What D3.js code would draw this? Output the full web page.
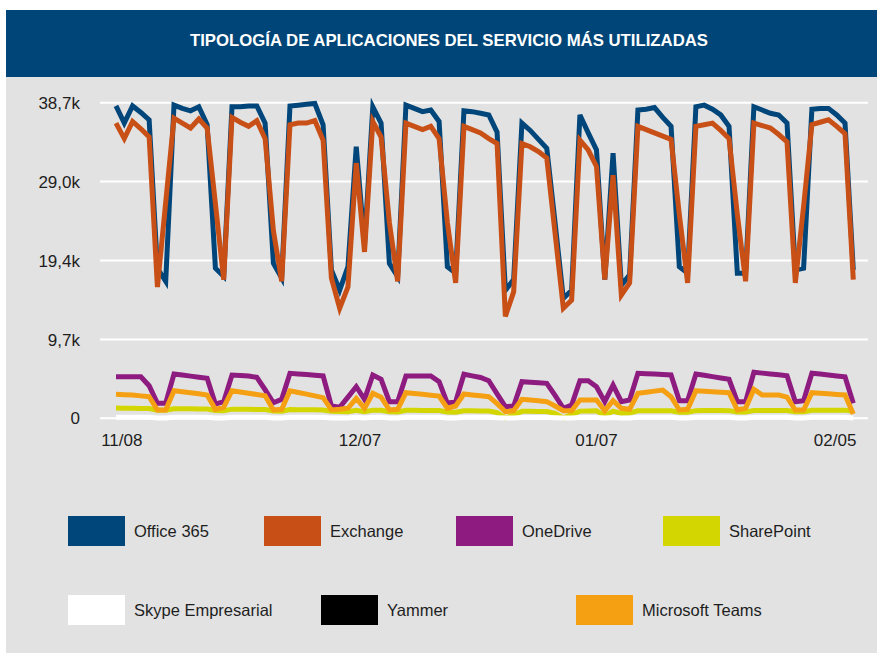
<!DOCTYPE html>
<html lang="es">
<head>
<meta charset="UTF-8">
<title>Tipología de aplicaciones del servicio más utilizadas</title>
<script src="https://cdn.jsdelivr.net/npm/d3@7"></script>
<style>
    body { margin: 0; background: #fff; }
    svg { display: block; font-family: "Liberation Sans", Arial, sans-serif; }
</style>
</head>
<body>
<svg id="chart" width="877" height="653"></svg>
<script>
// daily values (thousands), one point per day, Monday first
const office365 = [
    38.3, 36.2, 38.3, 37.5, 36.6, 18.4, 16.8,
    38.4, 38.0, 37.7, 38.2, 36.0, 18.4, 17.4,
    38.2, 38.2, 38.3, 38.3, 36.2, 19.0, 17.2,
    38.3, 38.4, 38.5, 38.6, 36.0, 18.2, 15.7,
    18.6, 33.3, 21.3, 38.2, 36.2, 19.0, 17.4,
    38.4, 38.0, 37.6, 37.8, 36.4, 18.6, 17.8,
    37.7, 37.6, 37.4, 37.2, 35.1, 15.7, 17.0,
    36.2, 35.3, 34.2, 33.1, 24.0, 14.7, 15.7,
    37.2, 35.0, 32.9, 17.0, 32.5, 16.3, 17.6,
    37.8, 37.9, 38.1, 36.9, 35.8, 18.6, 17.8,
    38.2, 38.4, 37.9, 37.2, 35.8, 17.8, 17.8,
    38.2, 37.8, 37.4, 37.2, 36.2, 18.2, 18.4,
    37.9, 38.0, 38.0, 37.2, 36.2, 18.2
];
const exchange = [
    36.2, 34.3, 36.4, 35.5, 34.5, 16.1, 26.5,
    36.8, 36.2, 35.6, 36.7, 35.6, 26.3, 17.0,
    36.9, 36.3, 35.8, 36.5, 34.3, 23.0, 16.8,
    36.0, 36.2, 36.2, 36.5, 34.1, 17.2, 13.5,
    16.1, 31.3, 20.4, 36.4, 34.5, 24.0, 16.8,
    36.2, 35.8, 35.4, 35.8, 34.3, 24.0, 16.6,
    35.8, 35.4, 35.0, 34.3, 33.7, 12.5, 15.5,
    33.7, 33.3, 32.7, 31.9, 22.7, 13.5, 14.5,
    34.1, 32.9, 30.9, 17.0, 29.8, 15.1, 16.6,
    35.8, 35.4, 35.0, 34.6, 34.2, 25.0, 16.6,
    35.8, 36.0, 36.2, 35.3, 34.3, 25.0, 16.8,
    36.2, 35.9, 35.6, 34.8, 33.9, 16.6, 26.0,
    36.0, 36.3, 36.6, 35.8, 34.9, 17.0
];
const oneDrive = [
    5.10, 5.10, 5.10, 5.10, 4.00, 1.84, 1.84,
    5.43, 5.30, 5.17, 5.03, 4.90, 1.75, 2.04,
    5.31, 5.25, 5.18, 5.03, 3.50, 1.91, 2.33,
    5.52, 5.44, 5.36, 5.27, 5.19, 1.51, 1.35,
    2.60, 3.87, 2.33, 5.31, 4.78, 2.04, 2.04,
    5.19, 5.19, 5.19, 5.19, 4.49, 1.84, 2.04,
    5.40, 5.20, 5.00, 4.61, 3.00, 1.42, 1.51,
    4.49, 4.42, 4.36, 4.29, 2.80, 1.23, 1.63,
    4.61, 4.61, 3.87, 2.04, 4.08, 2.04, 2.24,
    5.52, 5.47, 5.42, 5.36, 5.31, 2.16, 2.16,
    5.43, 5.27, 5.11, 4.94, 4.78, 2.04, 2.04,
    5.64, 5.54, 5.43, 5.33, 5.22, 2.04, 2.16,
    5.52, 5.42, 5.31, 5.20, 5.10, 1.84
];
const sharePoint = [
    1.25, 1.24, 1.23, 1.21, 1.20, 1.00, 0.98,
    1.18, 1.17, 1.16, 1.15, 1.13, 0.95, 0.93,
    1.12, 1.11, 1.10, 1.09, 1.07, 0.90, 0.88,
    1.07, 1.06, 1.05, 1.04, 1.02, 0.85, 0.82,
    0.80, 0.98, 0.80, 1.00, 0.98, 0.80, 0.78,
    0.98, 0.98, 0.97, 0.97, 0.95, 0.78, 0.75,
    0.92, 0.92, 0.90, 0.90, 0.70, 0.05, 0.40,
    0.85, 0.85, 0.84, 0.83, 0.60, 0.05, 0.45,
    0.88, 0.90, 0.92, 0.30, 0.88, 0.60, 0.65,
    0.92, 0.93, 0.93, 0.93, 0.92, 0.75, 0.75,
    0.94, 0.95, 0.95, 0.95, 0.94, 0.78, 0.78,
    0.96, 0.97, 0.97, 0.97, 0.96, 0.80, 0.80,
    0.98, 0.99, 1.00, 1.00, 1.00, 0.85
];
const skype = [
    0.12, 0.12, 0.12, 0.12, 0.12, 0.05, 0.05,
    0.12, 0.12, 0.12, 0.12, 0.12, 0.05, 0.05,
    0.12, 0.12, 0.12, 0.12, 0.12, 0.05, 0.05,
    0.12, 0.12, 0.12, 0.12, 0.12, 0.05, 0.05,
    0.05, 0.12, 0.05, 0.12, 0.12, 0.05, 0.05,
    0.12, 0.12, 0.12, 0.12, 0.12, 0.05, 0.05,
    0.12, 0.12, 0.12, 0.12, 0.08, 0.04, 0.04,
    0.10, 0.10, 0.10, 0.10, 0.08, 0.04, 0.04,
    0.10, 0.10, 0.10, 0.05, 0.10, 0.05, 0.05,
    0.12, 0.12, 0.12, 0.12, 0.12, 0.05, 0.05,
    0.12, 0.12, 0.12, 0.12, 0.12, 0.05, 0.05,
    0.12, 0.12, 0.12, 0.12, 0.12, 0.05, 0.05,
    0.12, 0.12, 0.12, 0.12, 0.12, 0.05
];
const yammer = [];   // no visible line in the chart
const teams = [
    2.94, 2.90, 2.85, 2.75, 2.65, 1.02, 1.02,
    3.38, 3.26, 3.14, 3.00, 2.86, 1.10, 1.35,
    3.38, 3.23, 3.07, 2.92, 2.77, 1.02, 1.10,
    3.38, 3.17, 2.96, 2.75, 2.53, 1.02, 1.10,
    1.23, 2.45, 1.23, 3.07, 2.58, 1.02, 1.10,
    3.14, 3.04, 2.94, 2.83, 2.73, 1.23, 1.51,
    2.98, 2.87, 2.76, 2.65, 1.80, 0.81, 0.93,
    2.33, 2.24, 2.14, 2.04, 1.50, 0.93, 0.93,
    2.24, 2.24, 2.24, 0.93, 2.16, 1.23, 1.10,
    3.07, 3.20, 3.33, 3.47, 2.65, 1.02, 1.10,
    3.38, 3.32, 3.26, 3.20, 3.14, 1.02, 1.23,
    3.56, 2.86, 2.86, 2.86, 2.60, 1.02, 1.02,
    3.14, 3.07, 3.00, 2.93, 2.86, 0.53
];

const seriesNames = ["Office 365", "Exchange", "OneDrive", "SharePoint", "Skype Empresarial", "Yammer", "Microsoft Teams"];
const seriesValues = [office365, exchange, oneDrive, sharePoint, skype, yammer, teams];
const seriesColors = ["#00467a", "#c84f16", "#8e1b7f", "#d3d600", "#ffffff", "#000000", "#f4a012"];

const yTicks = [0, 9.675, 19.35, 29.025, 38.7];
const yTickLabels = ["0", "9,7k", "19,4k", "29,0k", "38,7k"];
const xTicks = [0.7, 29.45, 58.0, 86.8];
const xTickLabels = ["11/08", "12/07", "01/07", "02/05"];

const title = "TIPOLOGÍA DE APLICACIONES DEL SERVICIO MÁS UTILIZADAS";

let svg = d3.select("#chart");

// panel + header
svg.append("rect").attr("x", 6).attr("y", 10).attr("width", 871).attr("height", 643).attr("fill", "#e2e2e2");
svg.append("rect").attr("x", 6).attr("y", 10).attr("width", 871).attr("height", 67).attr("fill", "#004577");
svg.append("text")
    .attr("x", 449).attr("y", 46)
    .attr("text-anchor", "middle")
    .attr("fill", "#fff")
    .attr("font-weight", "bold")
    .attr("font-size", 17)
    .attr("textLength", 518)
    .attr("lengthAdjust", "spacingAndGlyphs")
    .text(title);

let x = d3.scaleLinear().domain([0, office365.length - 1]).range([116, 853.3]);
let y = d3.scaleLinear().domain([0, 38.7]).range([418.3, 102.7]);

// grid
svg.append("g").selectAll("line")
    .data(yTicks)
    .join("line")
    .attr("x1", 100).attr("x2", 868)
    .attr("y1", d => y(d)).attr("y2", d => y(d))
    .attr("stroke", "#fff").attr("stroke-width", 2);

svg.append("g").selectAll("text")
    .data(yTicks)
    .join("text")
    .attr("x", 80).attr("y", d => y(d))
    .attr("dy", "0.36em")
    .attr("text-anchor", "end")
    .attr("font-size", 17)
    .attr("fill", "#1e1e1e")
    .text((d, i) => yTickLabels[i]);

svg.append("g").selectAll("text")
    .data(xTicks)
    .join("text")
    .attr("x", d => x(d)).attr("y", 446)
    .attr("text-anchor", "middle")
    .attr("font-size", 17)
    .attr("fill", "#1e1e1e")
    .text((d, i) => xTickLabels[i]);

// lines, drawn in legend order so later series sit on top
let line = d3.line().x((d, i) => x(i)).y(d => y(d));
svg.append("g").selectAll("path")
    .data(seriesValues.map((v, i) => ({v: v, c: seriesColors[i]})).filter(s => s.v.length))
    .join("path")
    .attr("d", s => line(s.v))
    .attr("fill", "none")
    .attr("stroke", s => s.c)
    .attr("stroke-width", 5)
    .attr("stroke-linejoin", "miter");

// legend
const legendSlots = [[68, 516], [264, 516], [456, 516], [663, 516], [68, 595], [321, 595], [576, 595]];
let lg = svg.append("g").selectAll("g")
    .data(seriesNames)
    .join("g")
    .attr("transform", (d, i) => "translate(" + legendSlots[i][0] + "," + legendSlots[i][1] + ")");
lg.append("rect")
    .attr("width", 57).attr("height", 30)
    .attr("fill", (d, i) => seriesColors[i]);
lg.append("text")
    .attr("x", 66).attr("y", 15).attr("dy", "0.36em")
    .attr("font-size", 16.5)
    .attr("fill", "#1e1e1e")
    .text(d => d);
</script>
</body>
</html>
